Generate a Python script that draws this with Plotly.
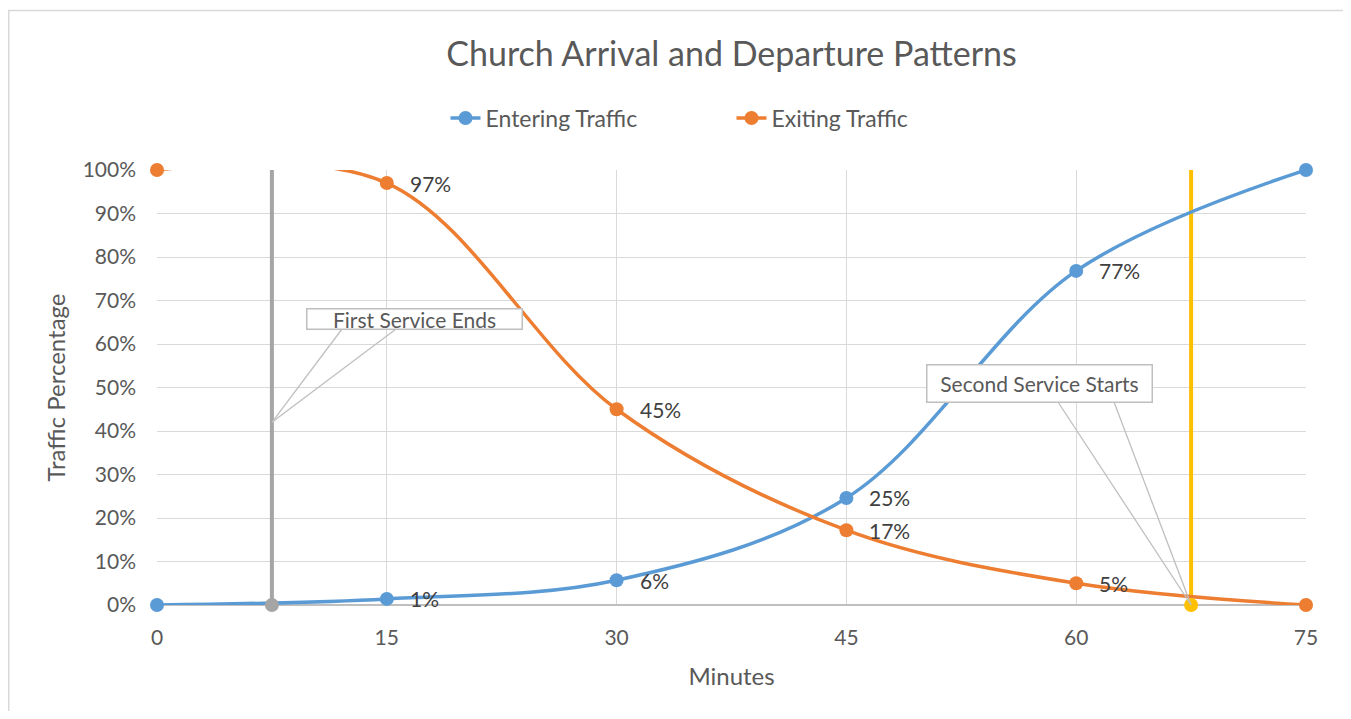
import plotly.graph_objects as go

minutes = [0, 15, 30, 45, 60, 75]
entering = [0.0, 0.014, 0.057, 0.246, 0.768, 1.0]
exiting = [1.0, 0.97, 0.45, 0.172, 0.05, 0.0]
label_idx = [1, 2, 3, 4]

first_end_x = 7.5
second_start_x = 67.5

x_ticks = [0, 15, 30, 45, 60, 75]
y_ticks = [0, 0.1, 0.2, 0.3, 0.4, 0.5, 0.6, 0.7, 0.8, 0.9, 1.0]

BLUE = "#5B9BD5"
ORANGE = "#ED7D31"
GRAY = "#A5A5A5"
GOLD = "#FFC000"
TXT = "#595959"
FONT = "Lato"

fig = go.Figure()

# vertical marker lines
fig.add_trace(go.Scatter(x=[first_end_x, first_end_x], y=[0, 1], mode="lines",
                         line=dict(color=GRAY, width=4), showlegend=False, hoverinfo="skip"))
fig.add_trace(go.Scatter(x=[second_start_x, second_start_x], y=[0, 1], mode="lines",
                         line=dict(color=GOLD, width=4), showlegend=False, hoverinfo="skip"))

fig.add_trace(go.Scatter(x=minutes, y=entering, name="Entering Traffic", mode="lines+markers",
                         line=dict(color=BLUE, width=3.5, shape="spline", smoothing=1),
                         marker=dict(color=BLUE, size=14), cliponaxis=False))
fig.add_trace(go.Scatter(x=minutes, y=exiting, name="Exiting Traffic", mode="lines+markers",
                         line=dict(color=ORANGE, width=3.5, shape="spline", smoothing=1),
                         marker=dict(color=ORANGE, size=14), cliponaxis=False))

fig.add_trace(go.Scatter(x=[first_end_x], y=[0], mode="markers", marker=dict(color=GRAY, size=14),
                         showlegend=False, hoverinfo="skip", cliponaxis=False))
fig.add_trace(go.Scatter(x=[second_start_x], y=[0], mode="markers", marker=dict(color=GOLD, size=14),
                         showlegend=False, hoverinfo="skip", cliponaxis=False))

# page is offset by the 8px body margin
OFF = 8
W, H = 1351 - OFF, 719 - 2 * OFF
PL, PR, PT, PB = 157, 1306, 170, 605  # plot area in page pixels
L, R, T, B = PL - OFF, W + OFF - PR, PT - OFF, H + OFF - PB
pw, ph = PR - PL, PB - PT

def px2x(p):
    return (p - PL) / pw * 75

def py2y(p):
    return (PB - p) / ph

shapes = []
for (bx, by), (tx, ty) in [((342, 329), (first_end_x, 0.42)), ((396, 329), (first_end_x, 0.42)),
                           ((1058, 402), (second_start_x, 0.0)), ((1114, 402), (second_start_x, 0.0))]:
    shapes.append(dict(type="line", xref="x", yref="y", x0=px2x(bx), y0=py2y(by), x1=tx, y1=ty,
                       line=dict(color="#BFBFBF", width=1.3), layer="above"))
# outer chart border
shapes.append(dict(type="rect", xref="paper", yref="paper",
                   x0=(8.75 - PL) / pw, x1=(1347.5 - PL) / pw, y0=py2y(740), y1=py2y(10.5),
                   line=dict(color="#D9D9D9", width=1.5), fillcolor="rgba(0,0,0,0)", layer="below"))

annotations = []
for xs, ys in [(minutes, entering), (minutes, exiting)]:
    for i in label_idx:
        annotations.append(dict(x=xs[i], y=ys[i], xref="x", yref="y", text=f"{round(ys[i]*100)}%",
                                showarrow=False, xanchor="left", yanchor="middle", xshift=21,
                                font=dict(family=FONT, size=21, color="#404040")))

annotations += [
    dict(x=px2x(414), y=py2y(319), xref="x", yref="y", text="First Service Ends", showarrow=False,
         font=dict(family=FONT, size=21, color=TXT), bgcolor="white", bordercolor="#BFBFBF",
         borderwidth=1.5, borderpad=0, width=214, height=19, xanchor="center", yanchor="middle"),
    dict(x=px2x(1039), y=py2y(383), xref="x", yref="y", text="Second Service Starts", showarrow=False,
         font=dict(family=FONT, size=21, color=TXT), bgcolor="white", bordercolor="#BFBFBF",
         borderwidth=1.5, borderpad=0, width=224, height=36, xanchor="center", yanchor="middle"),
]

fig.update_layout(
    width=W, height=H,
    margin=dict(l=L, r=R, t=T, b=B),
    paper_bgcolor="white", plot_bgcolor="white",
    font=dict(family=FONT, color=TXT),
    title=dict(text="Church Arrival and Departure Patterns", x=0.5, xref="paper", xanchor="center",
               y=1 - (54 - OFF) / H, yanchor="middle", font=dict(family=FONT, size=34, color=TXT)),
    legend=dict(orientation="h", x=0.5, xanchor="center", xref="paper", y=py2y(118), yanchor="middle",
                font=dict(family=FONT, size=23, color=TXT), traceorder="normal",
                entrywidth=241, entrywidthmode="pixels"),
    xaxis=dict(range=[0, 75], tickvals=x_ticks, ticktext=[str(v) for v in x_ticks],
               showgrid=True, gridcolor="#D9D9D9", gridwidth=1.3, zeroline=False,
               showline=False, ticks="", ticklabelstandoff=18,
               tickfont=dict(family=FONT, size=21, color=TXT),
               title=dict(text="Minutes", font=dict(family=FONT, size=24, color=TXT), standoff=20)),
    yaxis=dict(range=[0, 1], tickvals=y_ticks, tickformat=".0%",
               showgrid=True, gridcolor="#D9D9D9", gridwidth=1.3, zeroline=True, zerolinecolor="#BFBFBF",
               zerolinewidth=1.5, showline=False, ticks="", ticklabelstandoff=20,
               tickfont=dict(family=FONT, size=21, color=TXT),
               title=dict(text="Traffic Percentage", font=dict(family=FONT, size=24, color=TXT), standoff=10)),
    shapes=shapes, annotations=annotations,
)

fig.write_html("out.html")
